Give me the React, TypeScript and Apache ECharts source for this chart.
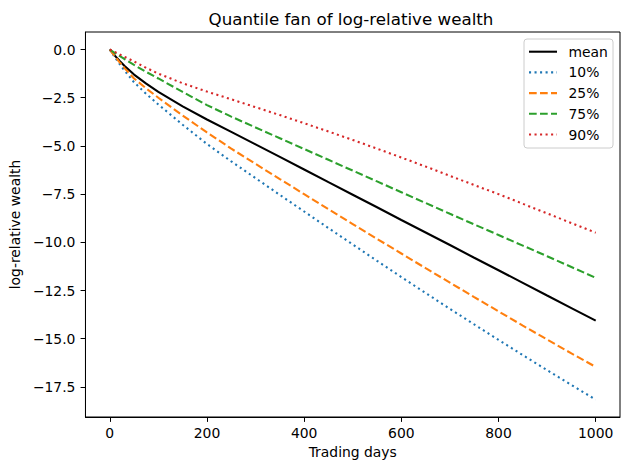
import React, { useEffect, useRef } from "react";
import * as echarts from "echarts";

// Trading-day grid on which the quantile paths are sampled
const days = [0, 10, 20, 30, 50, 75, 100, 150, 200, 250, 300, 350, 400, 450, 500, 550, 600, 650, 700, 750, 800, 850, 900, 950, 1000];

// Log-relative wealth: mean path and cross-sectional quantiles
const meanPath = [0, -0.3, -0.58, -0.84, -1.3, -1.77, -2.2, -2.95, -3.63, -4.27, -4.92, -5.57, -6.22, -6.88, -7.53, -8.18, -8.84, -9.49, -10.14, -10.8, -11.45, -12.1, -12.76, -13.41, -14.06];
const q10 = [0, -0.38, -0.74, -1.08, -1.7, -2.3, -2.85, -3.9, -4.9, -5.8, -6.67, -7.54, -8.4, -9.26, -10.11, -10.96, -11.8, -12.63, -13.45, -14.26, -15.06, -15.85, -16.63, -17.4, -18.16];
const q25 = [0, -0.33, -0.65, -0.95, -1.5, -2.02, -2.5, -3.42, -4.3, -5.14, -5.93, -6.72, -7.5, -8.28, -9.05, -9.82, -10.58, -11.34, -12.09, -12.84, -13.58, -14.32, -15.04, -15.76, -16.46];
const q75 = [0, -0.17, -0.33, -0.49, -0.8, -1.16, -1.5, -2.2, -2.88, -3.48, -4.04, -4.6, -5.16, -5.72, -6.28, -6.84, -7.4, -7.96, -8.52, -9.07, -9.62, -10.17, -10.72, -11.28, -11.84];
const q90 = [0, -0.12, -0.25, -0.37, -0.62, -0.95, -1.25, -1.75, -2.18, -2.58, -2.99, -3.4, -3.82, -4.25, -4.69, -5.14, -5.6, -6.07, -6.55, -7.03, -7.5, -8.0, -8.5, -9.0, -9.5];

const seriesNames = ["mean", "10%", "25%", "75%", "90%"];
const xTicks = [0, 200, 400, 600, 800, 1000];
const yTicks = [0, -2.5, -5, -7.5, -10, -12.5, -15, -17.5];

const FONT = "DejaVu Sans";
const FS = 13.9;
const LW = 2.08;
const DASHED = [7.7, 3.3];
const DOTTED = [2.08, 3.44];

const fmtY = (v: number) => (v < 0 ? "\u2212" : "") + Math.abs(v).toFixed(1);

export default function App() {
  const ref = useRef<HTMLDivElement>(null);

  useEffect(() => {
    if (!ref.current) return;
    const chart = echarts.init(ref.current, undefined, { renderer: "svg" });

    const styles: { color: string; dash: any }[] = [
      { color: "#000000", dash: "solid" },
      { color: "#1f77b4", dash: DOTTED },
      { color: "#ff7f0e", dash: DASHED },
      { color: "#2ca02c", dash: DASHED },
      { color: "#d62728", dash: DOTTED },
    ];
    const values = [meanPath, q10, q25, q75, q90];

    const series = values.map((ys, k) => ({
      name: seriesNames[k],
      type: "line",
      data: days.map((d, i) => [d, ys[i]]),
      symbol: "none",
      lineStyle: { color: styles[k].color, width: LW, type: styles[k].dash },
      itemStyle: { color: styles[k].color },
    }));

    // Legend box in the upper-right corner of the plot
    const boxX = 524;
    const boxY = 39;
    const rowH = 20.7;
    const legendChildren: any[] = [
      {
        type: "rect",
        shape: { x: boxX, y: boxY, width: 89, height: 109, r: 3 },
        style: { fill: "rgba(255,255,255,0.8)", stroke: "#cccccc", lineWidth: 1 },
      },
    ];
    seriesNames.forEach((name, k) => {
      const cy = boxY + 12.7 + k * rowH;
      legendChildren.push({
        type: "line",
        shape: { x1: 529, y1: cy, x2: 557, y2: cy },
        style: {
          stroke: styles[k].color,
          lineWidth: LW,
          lineDash: styles[k].dash === "solid" ? null : styles[k].dash,
        },
      });
      legendChildren.push({
        type: "text",
        x: 568.5,
        y: cy,
        style: {
          text: name,
          fontFamily: FONT,
          fontSize: FS,
          fill: "#000",
          verticalAlign: "middle",
          align: "left",
        },
      });
    });

    chart.setOption({
      animation: false,
      backgroundColor: "#ffffff",
      textStyle: { fontFamily: FONT },
      title: {
        text: "Quantile fan of log-relative wealth",
        left: 351,
        top: 10,
        padding: 0,
        textAlign: "center",
        textStyle: { fontFamily: FONT, fontSize: 16.7, fontWeight: "normal", color: "#000" },
      },
      grid: {
        left: 82,
        top: 32,
        width: 538,
        height: 385,
        show: true,
        borderColor: "#000",
        borderWidth: 1,
        backgroundColor: "transparent",
      },
      xAxis: {
        type: "value",
        min: -50,
        max: 1050,
        name: "Trading days",
        nameLocation: "middle",
        nameGap: 28,
        nameTextStyle: { fontFamily: FONT, fontSize: FS, color: "#000" },
        axisLine: { show: true, onZero: false, lineStyle: { color: "#000" } },
        splitLine: { show: false },
        axisTick: { show: true, length: 4.9, lineStyle: { color: "#000" }, customValues: xTicks },
        axisLabel: {
          customValues: xTicks,
          margin: 9,
          fontFamily: FONT,
          fontSize: FS,
          color: "#000",
          formatter: (v: number) => String(v),
        },
      },
      yAxis: {
        type: "value",
        min: -19.06,
        max: 0.91,
        name: "log-relative wealth",
        nameLocation: "middle",
        nameGap: 58,
        nameRotate: 90,
        nameTextStyle: { fontFamily: FONT, fontSize: FS, color: "#000" },
        axisLine: { show: true, onZero: false, lineStyle: { color: "#000" } },
        splitLine: { show: false },
        axisTick: { show: true, length: 4.9, lineStyle: { color: "#000" }, customValues: yTicks },
        axisLabel: {
          customValues: yTicks,
          margin: 10,
          fontFamily: FONT,
          fontSize: FS,
          color: "#000",
          formatter: fmtY,
        },
      },
      series,
      graphic: [{ type: "group", children: legendChildren }],
    });

    return () => chart.dispose();
  }, []);

  return <div ref={ref} style={{ position: "absolute", left: 0, top: 0, width: 630, height: 470 }} />;
}
